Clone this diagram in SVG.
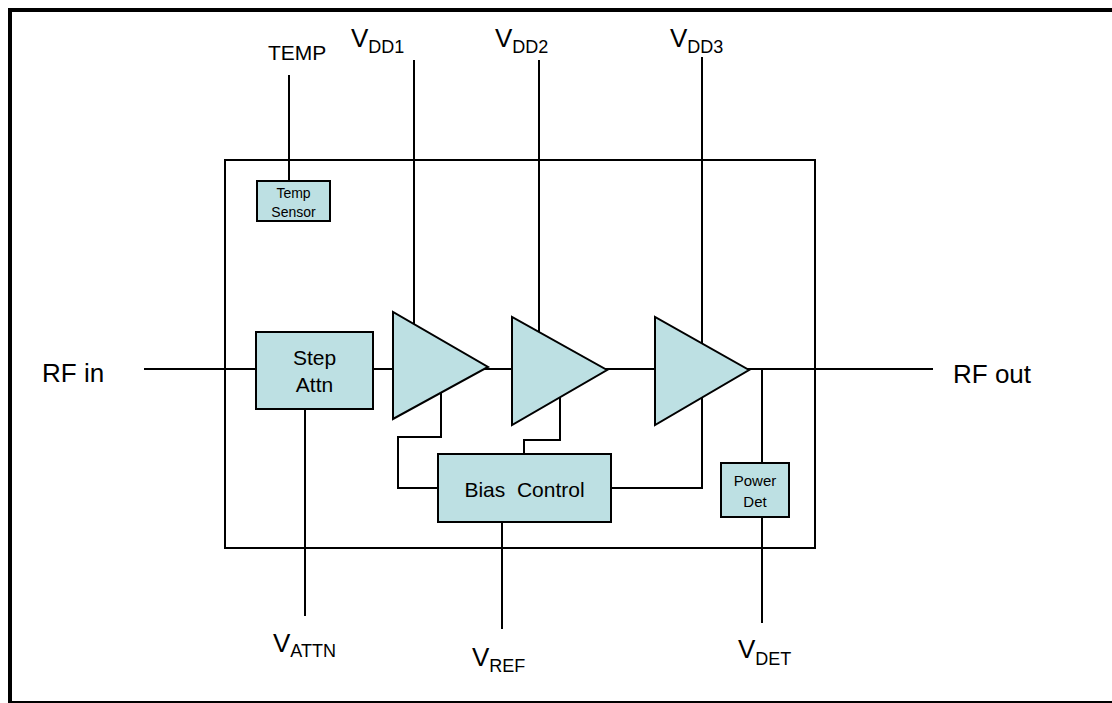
<svg xmlns="http://www.w3.org/2000/svg" width="1112" height="703" viewBox="0 0 1112 703">
<style>
.w{stroke:#000;stroke-width:2;fill:none}
.blk{fill:#bde0e3;stroke:#000;stroke-width:2}
text{font-family:"Liberation Sans",Arial,sans-serif;fill:#000}
.big{font-size:26px}
.sub{font-size:18px}
.mid{font-size:21px;text-anchor:middle}
.sm{font-size:15px;text-anchor:middle}
</style>
<rect width="1112" height="703" fill="#fff"/>
<g id="frame">
<line x1="10" y1="8" x2="10" y2="703" stroke="#000" stroke-width="4"/>
<line x1="8" y1="10" x2="1112" y2="10" stroke="#000" stroke-width="4"/>
<line x1="8" y1="702" x2="1112" y2="702" stroke="#000" stroke-width="2"/>
</g>
<g id="package">
<rect x="225" y="160" width="590" height="388" class="w"/>
</g>
<g id="connectors">
<line x1="144" y1="369" x2="933" y2="369" class="w"/>
<line x1="289" y1="75" x2="289" y2="181" class="w"/>
<line x1="414" y1="60" x2="414" y2="330" class="w"/>
<line x1="539" y1="60" x2="539" y2="340" class="w"/>
<polyline points="702,57 702,488 611,488" class="w"/>
<polyline points="441,385 441,437 398,437 398,488 438,488" class="w"/>
<polyline points="560,390 560,440 524,440 524,454" class="w"/>
<line x1="305" y1="409" x2="305" y2="616" class="w"/>
<line x1="502" y1="522" x2="502" y2="629" class="w"/>
<line x1="762" y1="369" x2="762" y2="623" class="w"/>
</g>
<g id="temp-sensor">
<rect x="257" y="181" width="73" height="40" class="blk"/>
<text x="293.5" y="198" class="sm" style="font-size:14px">Temp</text>
<text x="293.5" y="217" class="sm" style="font-size:14px">Sensor</text>
</g>
<g id="step-attn">
<rect x="256" y="332" width="117" height="77" class="blk"/>
<text x="314.5" y="365" class="mid">Step</text>
<text x="314.5" y="392" class="mid">Attn</text>
</g>
<g id="amp1"><polygon points="393,312 393,419 488,367" class="blk"/></g>
<g id="amp2"><polygon points="512,317 512,425 607,370" class="blk"/></g>
<g id="amp3"><polygon points="655,317 655,425 749,370" class="blk"/></g>
<g id="bias-control">
<rect x="438" y="454" width="173" height="68" class="blk"/>
<text x="524.5" y="497" class="mid" style="white-space:pre">Bias  Control</text>
</g>
<g id="power-det">
<rect x="721" y="463" width="68" height="54" class="blk"/>
<text x="755" y="486" class="sm">Power</text>
<text x="755" y="507" class="sm">Det</text>
</g>
<g id="labels">
<text x="268" y="60" style="font-size:21px">TEMP</text>
<text x="351" y="47" class="big">V<tspan class="sub" dy="6">DD1</tspan></text>
<text x="495" y="47" class="big">V<tspan class="sub" dy="6">DD2</tspan></text>
<text x="670" y="47" class="big">V<tspan class="sub" dy="6">DD3</tspan></text>
<text x="42" y="382" class="big">RF in</text>
<text x="953" y="383" class="big">RF out</text>
<text x="273" y="652" class="big">V<tspan class="sub" dy="5">ATTN</tspan></text>
<text x="472" y="666" class="big">V<tspan class="sub" dy="6">REF</tspan></text>
<text x="738" y="658" class="big">V<tspan class="sub" dy="7">DET</tspan></text>
</g>
</svg>
